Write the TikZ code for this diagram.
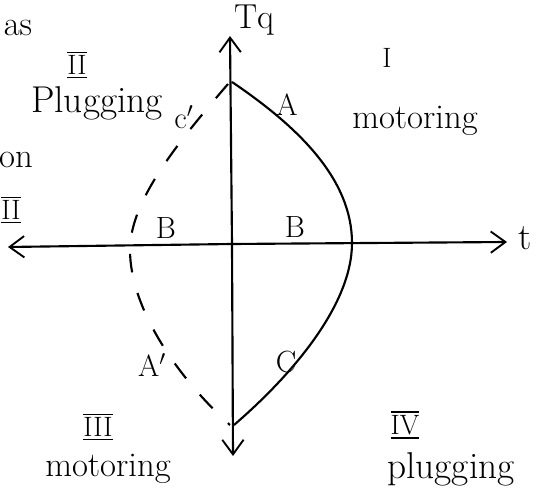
\RequirePackage{fix-cm}
\documentclass[tikz,border=0pt]{standalone}
\usepackage{fontspec}
\setmainfont{Latin Modern Roman}
\usetikzlibrary{arrows.meta}
\newcommand{\rnum}[1]{\setbox0=\hbox{#1}\vbox{\hrule width \wd0 height .9pt \kern2pt \copy0 \kern2pt \hrule width \wd0 height .9pt}}
\begin{document}
\begin{tikzpicture}[x=0.75pt,y=-0.75pt,
  axis/.style={line width=1.6pt,-{Straight Barb[length=11pt,width=16pt,line width=1.4pt]}},
  curve/.style={line width=1.6pt},
  dcurve/.style={line width=1.6pt,dash pattern=on 14pt off 16pt},
  big/.style={inner sep=0pt,font=\fontsize{26}{30}\selectfont},
  wide/.style={inner sep=0pt,font=\fontsize{28}{32}\selectfont},
  pt/.style={inner sep=0pt,font=\fontsize{23}{27}\selectfont},
  num/.style={inner sep=0pt,font=\fontsize{21}{25}\selectfont}]
\useasboundingbox (0,0) rectangle (537,499);
% axes
\coordinate (ybot) at (233,456);
\coordinate (ytop) at (230,36);
\coordinate (xl) at (8,247);
\coordinate (xr) at (507,242);
\coordinate (o) at (232,244);
\draw[axis] (o) -- (ytop);
\draw[axis] (o) -- (ybot);
\draw[axis] (o) -- (xl);
\draw[axis] (o) -- (xr);
% solid curve
\coordinate (stop) at (232,82);
\coordinate (sr) at (352,243);
\coordinate (sbot) at (234,425);
\draw[curve] (stop) .. controls (300,128) and (352,180) .. (sr)
  .. controls (352,305) and (292,375) .. (sbot);
% dashed curve
\coordinate (dtop) at (228,84);
\coordinate (dl) at (130,250);
\coordinate (dbot) at (230,425);
\draw[dcurve] (dtop) .. controls (180,140) and (130,200) .. (dl)
  .. controls (130,310) and (180,380) .. (dbot);
% axis labels
\node[big] (tq) at (254,20) {Tq};
\node[wide] (t) at (525,238) {t};
% point labels
\node[pt] (A) at (287,105) {A};
\node[pt] (B) at (295,227) {B};
\node[pt] (C) at (286,362) {C};
\node[pt] (cp) at (184,117) {c$'$};
\node[pt] (Bl) at (166,228) {B};
\node[pt] (Ap) at (152,365) {A$'$};
% quadrant labels
\node[num] (q2) at (77,65) {\rnum{II}};
\node[wide] (plug2) at (97,103) {Plugging};
\node[num] (q1) at (387,58) {I};
\node[big] (mot1) at (415,121) {motoring};
\node[num] (q3) at (98,427) {\rnum{III}};
\node[big] (mot3) at (108,469) {motoring};
\node[num] (q4) at (405,425) {\rnum{IV}};
\node[wide] (plug4) at (451,469) {plugging};
% fragments at left edge
\node[big] (as) at (18,28) {as};
\node[big] (on) at (16,160) {on};
\node[num] (frag) at (11,210) {\rnum{II}};
\end{tikzpicture}
\end{document}
